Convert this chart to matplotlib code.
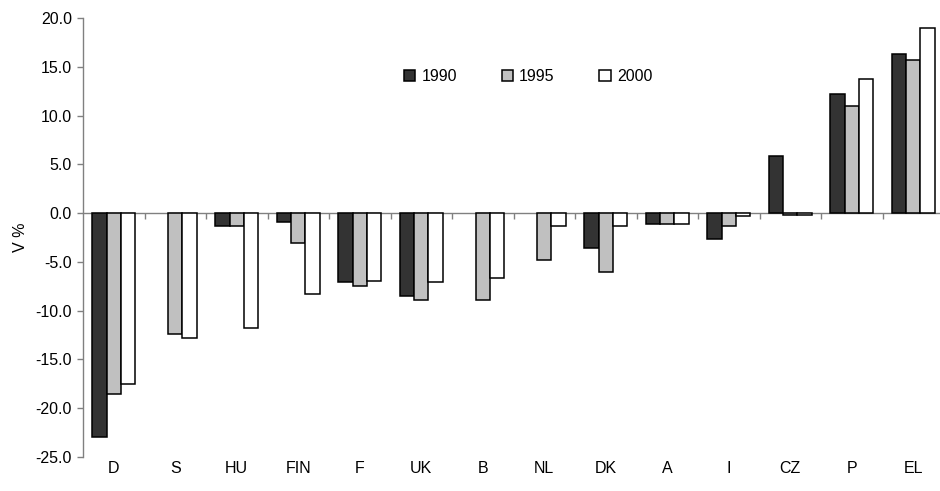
import matplotlib
matplotlib.use("Agg")
import matplotlib.pyplot as plt
import numpy as np
from matplotlib.transforms import blended_transform_factory

plt.rcParams['font.family'] = ['Liberation Sans', 'DejaVu Sans']

nan = float("nan")
categories = ["D", "S", "HU", "FIN", "F", "UK", "B", "NL", "DK", "A", "I", "CZ", "P", "EL"]
years = ["1990", "1995", "2000"]
v1990 = [-23.0, nan, -1.3, -0.9, -7.1, -8.5, nan, nan, -3.6, -1.1, -2.7, 5.9, 12.2, 16.3]
v1995 = [-18.5, -12.4, -1.3, -3.1, -7.5, -8.9, -8.9, -4.8, -6.0, -1.1, -1.3, -0.2, 11.0, 15.7]
v2000 = [-17.5, -12.8, -11.8, -8.3, -7.0, -7.1, -6.7, -1.3, -1.3, -1.1, -0.3, -0.2, 13.7, 19.0]
yticks = [20, 15, 10, 5, 0, -5, -10, -15, -20, -25]

series = [v1990, v1995, v2000]
colors = ["#333333", "#c0c0c0", "#ffffff"]
FS = 11.5

W, H = 940, 491
fig = plt.figure(figsize=(W / 100, H / 100), dpi=100)
ax = fig.add_axes([83 / W, 34 / H, 861 / W, 439 / H])

x = np.arange(len(categories))
bw = 0.235
for k, (vals, c, lab) in enumerate(zip(series, colors, years)):
    ax.bar(x + (k - 1) * bw, vals, width=bw, color=c, edgecolor="black",
           linewidth=1.1, label=lab, zorder=3)

ax.set_xlim(-0.5, len(categories) - 0.5)
ax.set_ylim(-25, 20)
ax.set_yticks(yticks)
ax.set_yticklabels([f"{t:.1f}" for t in yticks], fontsize=FS)

for s in ["top", "right"]:
    ax.spines[s].set_visible(False)
ax.spines["left"].set_color("#808080")
ax.spines["left"].set_linewidth(1.0)
ax.spines["bottom"].set_position(("data", 0))
ax.spines["bottom"].set_color("#808080")
ax.spines["bottom"].set_linewidth(1.0)
ax.spines["bottom"].set_zorder(2)

ax.set_xticks(np.arange(len(categories) - 1) + 0.5)
ax.tick_params(axis="x", direction="out", length=4, color="#808080",
               labelbottom=False, width=1.0)
ax.tick_params(axis="y", direction="out", length=4, color="#808080", width=1.0,
               pad=4)

trans = blended_transform_factory(ax.transData, ax.transAxes)
for i, c in enumerate(categories):
    ax.text(i, -0.027, c, transform=trans, ha="center", va="center", fontsize=FS)

ax.set_ylabel("V %", fontsize=FS, labelpad=5)

leg = ax.legend(loc="center", bbox_to_anchor=(528 / W, 1 - 77 / H),
                bbox_transform=fig.transFigure, ncol=3, frameon=False,
                fontsize=FS, handlelength=0.7, handleheight=0.7,
                handletextpad=0.4, columnspacing=2.8, borderaxespad=0)

fig.savefig("out.png", dpi=100)
